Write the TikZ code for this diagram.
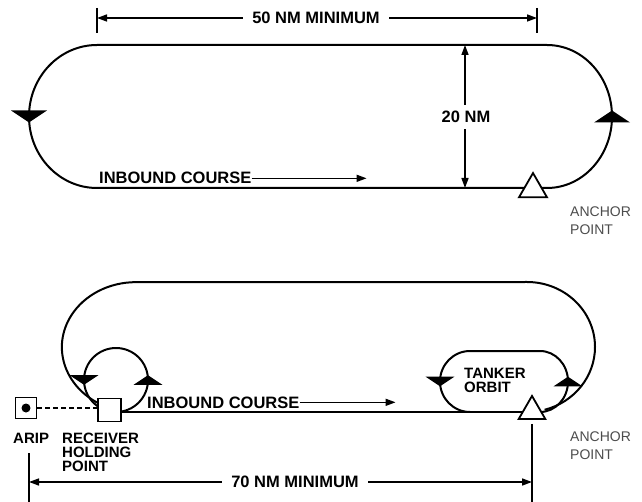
\documentclass[tikz,border=0pt]{standalone}
\usepackage{fontspec}
\setmainfont{Liberation Sans}
\usetikzlibrary{arrows.meta,shapes.geometric}
\begin{document}
\begin{tikzpicture}[x=1pt,y=1pt,
  track/.style={line width=2pt, line join=round},
  dimline/.style={line width=1.5pt,
    {Triangle[length=10pt,width=7pt]}-{Triangle[length=10pt,width=7pt]}},
  course/.style={line width=1.5pt, -{Triangle[length=10pt,width=7pt]}},
  tickline/.style={line width=1.5pt},
  lbl/.style={font=\bfseries\fontsize{16.5}{16.5}\selectfont, inner sep=0pt},
  dimlbl/.style={lbl, fill=white, inner xsep=9pt, inner ysep=2pt},
  smalllbl/.style={font=\bfseries\fontsize{15}{13.8}\selectfont, inner sep=0pt, align=left},
  anchorlbl/.style={font=\fontsize{14}{18}\selectfont, text=black!70, inner sep=0pt, align=left},
  anchortri/.style={regular polygon, regular polygon sides=3, draw, fill=white,
    line width=1.8pt, inner sep=0pt},
  fixbox/.style={draw, fill=white, line width=1.5pt, inner sep=0pt},
  dnmark/.pic={\fill (-18,6) -- (18,6) -- (0,-6) -- cycle;},
  upmark/.pic={\fill (-18,-6) -- (18,-6) -- (0,6) -- cycle;},
]
\useasboundingbox (0,0) rectangle (642,-502);

% ---------- upper pattern: 50 NM racetrack ----------
\coordinate (t50L) at (97,-18);
\coordinate (t50R) at (537,-18);
\draw[tickline] (97,-8) -- (97,-33);
\draw[tickline] (537,-8) -- (537,-33);
\draw[dimline] (t50L) -- (t50R);
\node[dimlbl] (d50) at (316,-18) {50 NM MINIMUM};

\draw[track] (97,-45) -- (547,-45)
  arc[start angle=90, end angle=-90, x radius=65, y radius=71.5]
  -- (97,-188)
  arc[start angle=270, end angle=90, x radius=68, y radius=71.5];
\pic at (29,-116.5) {dnmark};
\pic at (612,-116.5) {upmark};

% track width
\coordinate (w20T) at (465,-45);
\coordinate (w20B) at (465,-188);
\draw[dimline] (w20T) -- (w20B);
\node[lbl, fill=white, inner ysep=6pt, inner xsep=1pt] (d20) at (466,-117) {20 NM};

\node[lbl, anchor=base west] (ib1) at (99,-184) {INBOUND COURSE};
\draw[course] (ib1.east) -- ++(115,0);

\node[anchortri, minimum size=32.3pt] (anc1) at (533,-189.2) {};
\node[anchorlbl, anchor=north west] (ap1) at (570,-207) {ANCHOR\\POINT};

% ---------- lower pattern: rendezvous with tanker orbit ----------
\node[fixbox, minimum size=21pt] (arip) at (26,-408) {};
\fill (arip.center) circle (4.5);
\node[fixbox, minimum size=23pt] (rhp) at (109.5,-410) {};

% large receiver loop
\draw[track] (100,-404)
  arc[start angle=241, end angle=90, x radius=74, y radius=65]
  -- (527,-282)
  arc[start angle=90, end angle=-75, x radius=68, y radius=65];

% receiver holding circle
\draw[track] (116,-380) circle (32);
\pic[scale=0.8] at (84,-380) {dnmark};
\pic[scale=0.8] at (148,-380) {upmark};

% tanker orbit
\draw[track] (470,-412)
  arc[start angle=270, end angle=90, x radius=30, y radius=30.5]
  -- (540,-351)
  arc[start angle=90, end angle=-90, x radius=28, y radius=30.5];
\pic[scale=0.8] at (440,-381.5) {dnmark};
\pic[scale=0.8] at (568,-381.5) {upmark};

% redraw holding box over the loops
\node[fixbox, minimum size=23pt] (rhp) at (109.5,-410) {};
\draw[line width=2pt, dash pattern=on 5pt off 3pt] (arip.east) -- (rhp.west |- arip.east);

\coordinate (crsL) at (121,-412);
\coordinate (crsR) at (532,-412);
\draw[track] (crsL) -- (crsR);
\node[anchortri, minimum size=30.7pt] (anc2) at (532,-411.3) {};

\node[lbl, anchor=base west] (ib2) at (147,-408) {INBOUND COURSE};
\draw[course] (ib2.east) -- ++(96,0);

\node[smalllbl, anchor=north west] (tko) at (464,-368) {TANKER\\ORBIT};
\node[smalllbl, anchor=north west] (ariplbl) at (13,-433) {ARIP};
\node[smalllbl, anchor=north west] (rhplbl) at (62,-433) {RECEIVER\\HOLDING\\POINT};
\node[anchorlbl, anchor=north west] (ap2) at (570,-432) {ANCHOR\\POINT};

% 70 NM separation
\coordinate (t70L) at (29,-482);
\coordinate (t70R) at (532,-482);
\draw[tickline] (29,-453) -- (29,-502);
\draw[tickline] (anc2.south) ++(0,-4) -- (532,-502);
\draw[dimline] (t70L) -- (t70R);
\node[dimlbl] (d70) at (295,-482) {70 NM MINIMUM};
\end{tikzpicture}
\end{document}
